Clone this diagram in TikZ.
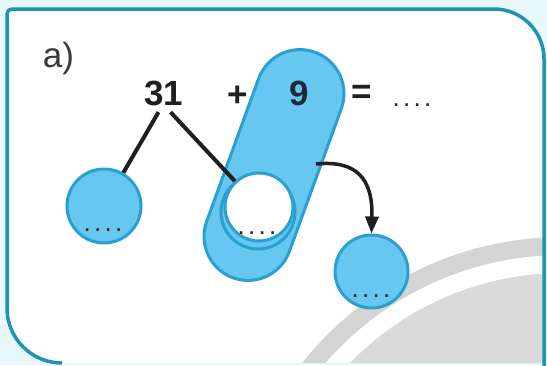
\documentclass[tikz,border=0pt]{standalone}
\usepackage{fontspec}
\setmainfont{Liberation Sans}
\usetikzlibrary{arrows.meta}
\definecolor{frame}{HTML}{1F93B6}
\definecolor{bfill}{HTML}{66C7F0}
\definecolor{bline}{HTML}{2A9FD2}
\definecolor{pale}{HTML}{E8F8FB}
\definecolor{band}{HTML}{D4D4D4}
\definecolor{bandin}{HTML}{DADADA}
\definecolor{navy}{HTML}{1C2B3C}
\begin{document}
\begin{tikzpicture}[x=1pt,y=-1pt,
  blob/.style={circle, draw=bline, fill=bfill, line width=3pt, inner sep=0pt},
  num/.style={font=\bfseries\fontsize{35}{40}\selectfont, inner sep=0pt, text=black!88},
  dotrow/.style={font=\fontsize{26}{28}\selectfont, inner sep=0pt, anchor=base, text=black!85},
  link/.style={line width=4pt, draw=black!88}]
\useasboundingbox (0,0) rectangle (547,365);
\fill[pale] (0,0) rectangle (547,365);
% interior
\fill[white] (7,308) -- (7,14) .. controls (7,11.2) and (9.2,9) .. (12,9) -- (494,9)
  .. controls (521.6,9) and (544,31.4) .. (544,59) -- (544,363) -- (62,363)
  .. controls (31.6,363) and (7,338.4) .. (7,308) -- cycle;
\begin{scope}
  \clip (7,308) -- (7,14) -- (544,9) -- (544,363) -- (62,363)
  .. controls (31.6,363) and (7,338.4) .. (7,308) -- cycle;
  \fill[band] (563,570) circle (333pt);
  \fill[white] (563,570) circle (315pt);
  \fill[bandin] (563,570) circle (297pt);
\end{scope}
% frame
\draw[frame, line width=3.5pt] (62,363) .. controls (31.6,363) and (7,338.4) .. (7,308)
  -- (7,14) .. controls (7,11.2) and (9.2,9) .. (12,9) -- (494,9)
  .. controls (521.6,9) and (544,31.4) .. (544,59) -- (544,366);
% capsule
\node[draw=bline, fill=bfill, line width=3pt, rectangle, rounded corners=44pt,
  minimum width=240pt, minimum height=88pt, inner sep=0pt, rotate=70] (cap) at (274,165) {};
% circles
\node[blob, minimum size=74pt] (c1) at (104,206) {};
\node[blob, minimum size=74pt] (c2) at (258,212) {};
\node[circle, draw=bline, fill=white, line width=3pt, minimum size=68pt, inner sep=0pt] (c2w) at (259,207) {};
\node[blob, minimum size=73pt] (c3) at (371.5,271.5) {};
% texts
\node[font=\fontsize{35}{40}\selectfont, text=black!78, inner sep=0pt] (lbl) at (58.5,58.5) {a)};
\node[num] (n31) at (163.5,93.5) {31};
\node[num] (plus) at (237.5,96.5) {+};
\node[num, text=navy] (n9) at (299,93.5) {9};
\node[num] (eq) at (362,94) {=};
\node[dotrow] (d0) at (412,106) {.\kern3.3pt.\kern3.3pt.\kern3.3pt.};
\node[dotrow] (d1) at (103,231.5) {.\kern3.3pt.\kern3.3pt.\kern3.3pt.};
\node[dotrow] (d2) at (257,234.5) {.\kern3.3pt.\kern3.3pt.\kern3.3pt.};
\node[dotrow] (d3) at (371,297.5) {.\kern3.3pt.\kern3.3pt.\kern3.3pt.};
% connectors
\draw[link] ([xshift=-5pt,yshift=-6pt]n31.south) -- (c1);
\draw[link] ([xshift=7pt,yshift=-6pt]n31.south) -- (c2w);
\coordinate (as) at (316,164);
\draw[link, line width=3.5pt, -{Triangle[width=13pt,length=17pt]}] (as) .. controls (356,160) and (373,178) .. (c3.north);
\end{tikzpicture}
\end{document}
